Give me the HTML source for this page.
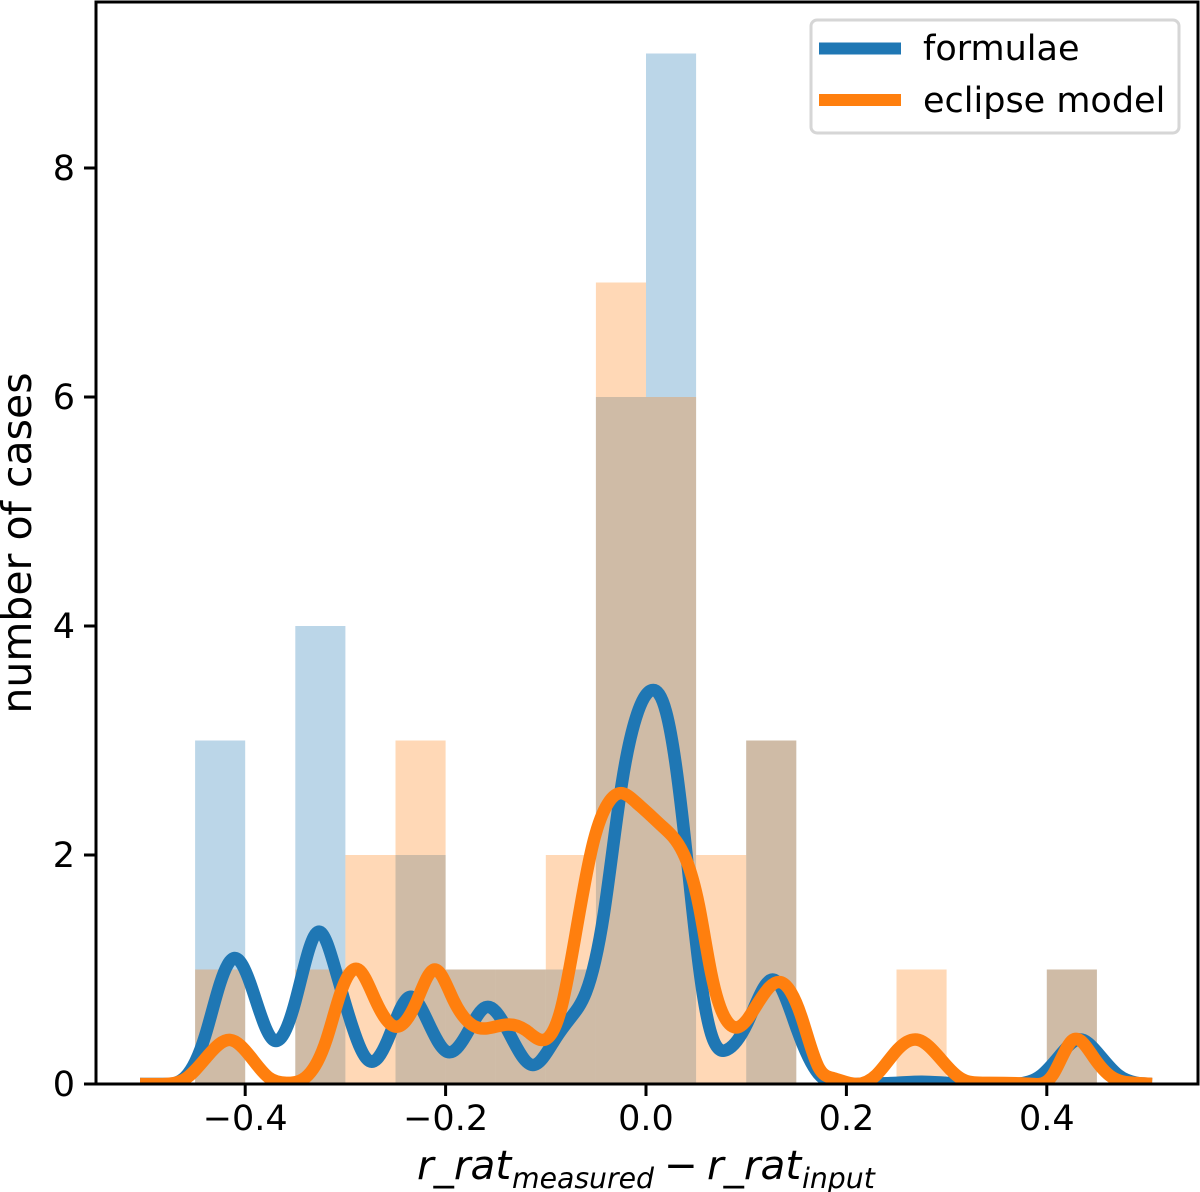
<!DOCTYPE html>
<html lang="en">
<head>
<meta charset="utf-8">
<title>Histogram of r_rat residuals</title>
<style>
html,body{margin:0;padding:0;background:#fff;}
svg{display:block;}
text{font-family:"DejaVu Sans","Liberation Sans",sans-serif;fill:#000;}
</style>
</head>
<body>
<svg id="chart" xmlns="http://www.w3.org/2000/svg" width="1200" height="1192" viewBox="0 0 1200 1192">
  <defs>
    <clipPath id="plot-clip"><rect x="96" y="2" width="1102" height="1082"></rect></clipPath>
  </defs>
  <g id="bars"></g>
  <g id="lines" clip-path="url(#plot-clip)"></g>
  <g id="ticks"></g>
  <rect x="96" y="2" width="1102" height="1082" fill="none" stroke="#000" stroke-width="3"></rect>
  <text transform="translate(31,543) rotate(-90)" text-anchor="middle" font-size="41">number of cases</text>
  <text y="1179" font-size="40.5" font-style="italic"><tspan x="417">r_rat</tspan><tspan x="512" dy="9" font-size="28.3">measured</tspan><tspan x="664" dy="-9" font-style="normal">−</tspan><tspan x="707">r_rat</tspan><tspan x="802" dy="9" font-size="28.3">input</tspan></text>
  <g>
    <rect x="811" y="20" width="368" height="113" rx="6" ry="6" fill="#fff" fill-opacity="0.8" stroke="#d6d6d6" stroke-width="3"></rect>
    <line x1="819" x2="901" y1="48.5" y2="48.5" stroke="#1f77b4" stroke-width="12"></line>
    <text x="923" y="60" font-size="35">formulae</text>
    <line x1="819" x2="901" y1="100" y2="100" stroke="#ff7f0e" stroke-width="12"></line>
    <text x="923" y="112" font-size="35">eclipse model</text>
  </g>
</svg>
<script>
const binStart = -0.45;
const binWidth = 0.05;
const formulaeCounts = [3,0,4,0,2,1,1,1,6,9,0,3,0,0,0,0,0,1];
const eclipseCounts  = [1,0,1,2,3,1,1,2,7,6,2,3,0,0,1,0,0,1];

const formulaeX = [-0.505,-0.48,-0.46,-0.44,-0.425,-0.41,-0.395,-0.372,-0.35,-0.327,-0.31,-0.293,-0.276,-0.258,-0.236,-0.218,-0.198,-0.18,-0.16,-0.14,-0.113,-0.09,-0.075,-0.06,-0.042,-0.024,-0.01,0.006,0.02,0.03,0.04,0.053,0.065,0.081,0.101,0.128,0.151,0.172,0.19,0.21,0.25,0.275,0.3,0.33,0.37,0.395,0.415,0.433,0.45,0.471,0.49,0.505];
const formulaeY = [0,0,0.06,0.42,0.88,1.1,0.88,0.385,0.72,1.33,1.0,0.5,0.2,0.38,0.76,0.55,0.28,0.42,0.67,0.5,0.166,0.4,0.58,0.8,1.49,2.63,3.2,3.44,3.25,2.77,2.04,1.02,0.44,0.3,0.53,0.91,0.47,0.09,0,0,0.01,0.02,0.01,0,0,0.08,0.27,0.39,0.28,0.08,0.01,0];

const eclipseX = [-0.505,-0.48,-0.459,-0.437,-0.415,-0.394,-0.377,-0.359,-0.337,-0.319,-0.305,-0.287,-0.27,-0.249,-0.23,-0.211,-0.192,-0.167,-0.138,-0.12,-0.102,-0.085,-0.07,-0.052,-0.038,-0.025,-0.01,0.004,0.015,0.037,0.053,0.065,0.08,0.093,0.112,0.134,0.155,0.172,0.187,0.21,0.23,0.251,0.272,0.293,0.314,0.336,0.385,0.406,0.426,0.447,0.465,0.487,0.505];
const eclipseY = [0,0,0.05,0.25,0.385,0.23,0.06,0.01,0.08,0.385,0.79,1.0,0.73,0.5,0.7,1.0,0.73,0.49,0.52,0.47,0.385,0.65,1.32,2.13,2.45,2.54,2.46,2.35,2.26,2.02,1.55,0.97,0.56,0.5,0.71,0.89,0.59,0.15,0.05,0,0.08,0.3,0.385,0.23,0.05,0.01,0,0.08,0.385,0.23,0.06,0.01,0];

const xTickValues = [-0.4,-0.2,0,0.2,0.4];
const xTickLabels = ["−0.4","−0.2","0.0","0.2","0.4"];
const yTickValues = [0,2,4,6,8];
const yTickLabels = ["0","2","4","6","8"];

const NS = "http://www.w3.org/2000/svg";
const xScale = function(v){ return 646 + v * 1002; };
const yScale = function(v){ return 1084 - v * 114.5; };

function make(tag, attrs){
  const el = document.createElementNS(NS, tag);
  for (const k in attrs) el.setAttribute(k, attrs[k]);
  return el;
}

/* Natural cubic spline through the read points, emitted as Bezier segments. */
function smoothPath(xs, ys){
  const px = xs.map(xScale), py = ys.map(yScale);
  const n = px.length;
  const h = [];
  for (let i = 0; i < n-1; i++) h.push(px[i+1]-px[i]);
  const M = new Array(n).fill(0), c = new Array(n).fill(0), d2 = new Array(n).fill(0);
  for (let i = 1; i < n-1; i++){
    const r = 6*((py[i+1]-py[i])/h[i] - (py[i]-py[i-1])/h[i-1]);
    const b = 2*(h[i-1]+h[i]) - h[i-1]*c[i-1];
    c[i] = h[i]/b;
    d2[i] = (r - h[i-1]*d2[i-1])/b;
  }
  for (let i = n-2; i > 0; i--) M[i] = d2[i] - c[i]*M[i+1];
  const slope = function(i){
    if (i === n-1) return (py[i]-py[i-1])/h[i-1] + h[i-1]*(M[i-1]+2*M[i])/6;
    return (py[i+1]-py[i])/h[i] - h[i]*(2*M[i]+M[i+1])/6;
  };
  let d = "M" + px[0].toFixed(2) + " " + py[0].toFixed(2);
  for (let i = 0; i < n-1; i++){
    const dx = h[i];
    d += "C" + (px[i]+dx/3).toFixed(2) + " " + (py[i]+slope(i)*dx/3).toFixed(2) + " " + (px[i+1]-dx/3).toFixed(2) + " " + (py[i+1]-slope(i+1)*dx/3).toFixed(2) + " " + px[i+1].toFixed(2) + " " + py[i+1].toFixed(2);
  }
  return d;
}

const barsGroup = document.getElementById("bars");
function drawBar(start, count, color){
  if (count <= 0) return null;
  const x0 = xScale(start), x1 = xScale(start + binWidth);
  const r = make("rect", {x:x0, y:yScale(count), width:x1-x0, height:yScale(0)-yScale(count), fill:color, "fill-opacity":0.3});
  barsGroup.appendChild(r);
  return r;
}
formulaeCounts.forEach(function(c, i){
  const r = drawBar(binStart + i*binWidth, c, "#1f77b4");
  if (r){
    
    
  }
});
eclipseCounts.forEach(function(c, i){
  const r = drawBar(binStart + i*binWidth, c, "#ff7f0e");
  if (r){
    
    
  }
});

const linesGroup = document.getElementById("lines");
const formulaeLine = make("path", {d:smoothPath(formulaeX, formulaeY), fill:"none", stroke:"#1f77b4", "stroke-width":12.5, "stroke-linejoin":"round"});


linesGroup.appendChild(formulaeLine);
const eclipseLine = make("path", {d:smoothPath(eclipseX, eclipseY), fill:"none", stroke:"#ff7f0e", "stroke-width":12.5, "stroke-linejoin":"round"});


linesGroup.appendChild(eclipseLine);

const ticksGroup = document.getElementById("ticks");
xTickValues.forEach(function(v, i){
  const x = xScale(v);
  const t = make("line", {x1:x, x2:x, y1:1084, y2:1096, stroke:"#000", "stroke-width":3});
  
  
  ticksGroup.appendChild(t);
  const l = make("text", {x:x, y:1130, "text-anchor":"middle", "font-size":35});
  
  
  l.textContent = xTickLabels[i];
  ticksGroup.appendChild(l);
});
yTickValues.forEach(function(v, i){
  const y = yScale(v);
  const t = make("line", {x1:84, x2:96, y1:y, y2:y, stroke:"#000", "stroke-width":3});
  
  
  ticksGroup.appendChild(t);
  const l = make("text", {x:75, y:y+12, "text-anchor":"end", "font-size":35});
  
  
  l.textContent = yTickLabels[i];
  ticksGroup.appendChild(l);
});
</script>
</body>
</html>
